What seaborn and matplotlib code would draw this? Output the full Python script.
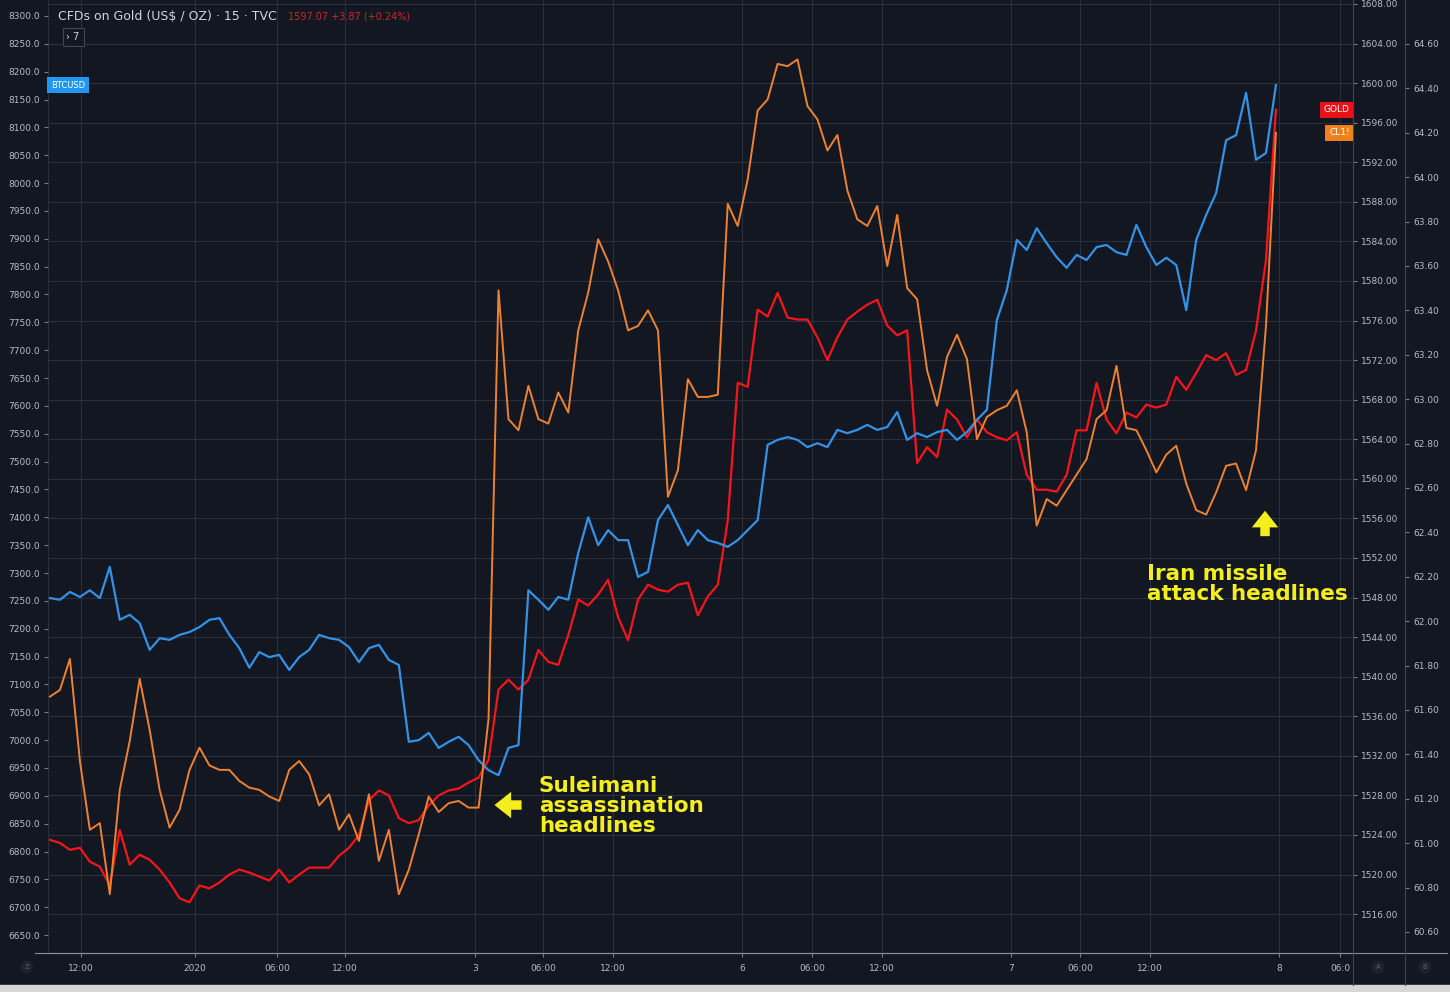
import numpy as np
import matplotlib
matplotlib.use("Agg")
import matplotlib.pyplot as plt
import matplotlib.ticker as mticker
from matplotlib.lines import Line2D
import seaborn as sns

# 15-min chart, sampled roughly every 50 minutes of trading time
btc_usd = [7255, 7252, 7266, 7257, 7269, 7255, 7311, 7216, 7225, 7210,
           7162, 7183, 7180, 7189, 7194, 7203, 7216, 7219, 7189, 7165,
           7130, 7158, 7149, 7153, 7126, 7149, 7162, 7189, 7183, 7180,
           7167, 7140, 7165, 7171, 7144, 7135, 6997, 7000, 7013, 6986,
           6997, 7006, 6991, 6964, 6946, 6937, 6986, 6991, 7269, 7252,
           7234, 7257, 7252, 7336, 7400, 7350, 7377, 7359, 7359, 7293,
           7302, 7395, 7422, 7386, 7350, 7377, 7359, 7354, 7347, 7359,
           7377, 7395, 7530, 7539, 7544, 7539, 7526, 7533, 7526, 7557,
           7551, 7557, 7566, 7557, 7562, 7589, 7539, 7551, 7544, 7553,
           7557, 7539, 7553, 7575, 7593, 7754, 7808, 7898, 7880, 7919,
           7892, 7867, 7848, 7871, 7862, 7885, 7889, 7876, 7871, 7925,
           7885, 7853, 7866, 7853, 7772, 7898, 7943, 7982, 8077, 8086,
           8162, 8042, 8054, 8176]

gold = [1523.5, 1523.2, 1522.5, 1522.7, 1521.3, 1520.8, 1518.9, 1524.5, 1521.0, 1522.0,
        1521.5, 1520.5, 1519.2, 1517.6, 1517.2, 1518.9, 1518.6, 1519.2, 1520.0, 1520.5,
        1520.2, 1519.8, 1519.4, 1520.5, 1519.2, 1520.0, 1520.7, 1520.7, 1520.7, 1521.9,
        1522.7, 1524.0, 1527.5, 1528.5, 1528.0, 1525.7, 1525.2, 1525.5, 1527.0, 1528.0,
        1528.5, 1528.7, 1529.3, 1529.8, 1531.6, 1538.7, 1539.7, 1538.7, 1539.7, 1542.7,
        1541.5, 1541.2, 1544.2, 1547.8, 1547.2, 1548.3, 1549.8, 1546.0, 1543.7, 1547.8,
        1549.3, 1548.8, 1548.6, 1549.3, 1549.5, 1546.2, 1548.1, 1549.3, 1555.8, 1569.7,
        1569.3, 1577.1, 1576.4, 1578.8, 1576.3, 1576.1, 1576.1, 1574.3, 1572.0, 1574.3,
        1576.1, 1576.9, 1577.6, 1578.1, 1575.5, 1574.5, 1575.0, 1561.6, 1563.2, 1562.2,
        1567.0, 1566.0, 1564.2, 1566.0, 1564.7, 1564.2, 1563.9, 1564.7, 1560.4, 1558.9,
        1558.9, 1558.7, 1560.4, 1564.9, 1564.9, 1569.7, 1566.0, 1564.6, 1566.7, 1566.2,
        1567.5, 1567.2, 1567.5, 1570.3, 1569.0, 1570.7, 1572.5, 1572.0, 1572.7, 1570.5,
        1571.0, 1575.0, 1582.1, 1597.3]

crude = [61.66, 61.69, 61.83, 61.37, 61.06, 61.09, 60.77, 61.24, 61.46, 61.74,
         61.51, 61.24, 61.07, 61.15, 61.33, 61.43, 61.35, 61.33, 61.33, 61.28,
         61.25, 61.24, 61.21, 61.19, 61.33, 61.37, 61.31, 61.17, 61.22, 61.06,
         61.13, 61.01, 61.22, 60.92, 61.06, 60.77, 60.88, 61.04, 61.21, 61.14,
         61.18, 61.19, 61.16, 61.16, 61.56, 63.49, 62.91, 62.86, 63.06, 62.91,
         62.89, 63.03, 62.94, 63.31, 63.48, 63.72, 63.62, 63.49, 63.31, 63.33,
         63.40, 63.31, 62.56, 62.68, 63.09, 63.01, 63.01, 63.02, 63.88, 63.78,
         63.99, 64.30, 64.35, 64.51, 64.50, 64.53, 64.32, 64.26, 64.12, 64.19,
         63.94, 63.81, 63.78, 63.87, 63.60, 63.83, 63.50, 63.45, 63.13, 62.97,
         63.19, 63.29, 63.18, 62.82, 62.92, 62.95, 62.97, 63.04, 62.85, 62.43,
         62.55, 62.52, 62.59, 62.66, 62.73, 62.91, 62.95, 63.15, 62.87, 62.86,
         62.77, 62.67, 62.75, 62.79, 62.62, 62.50, 62.48, 62.58, 62.70, 62.71,
         62.59, 62.77, 63.33, 64.20]

tick_pos = [3.11, 14.55, 22.78, 29.60, 42.64, 49.46, 56.49, 69.43, 76.45,
            83.48, 96.42, 103.34, 110.36, 123.31, 129.43]
tick_labels = ["12:00", "2020", "06:00", "12:00", "3", "06:00", "12:00", "6",
               "06:00", "12:00", "7", "06:00", "12:00", "8", "06:0"]

bars = np.arange(len(gold))

BG = "#131722"
TXT = "#b8bbc4"
SEP = "#434651"
YELLOW = "#f5ee1f"
C_BTC, C_GOLD, C_OIL = "#3392e6", "#f5161b", "#ee8230"

plt.rcParams["font.family"] = ["DejaVu Sans"]

fig = plt.figure(figsize=(14.5, 9.92), dpi=100, facecolor=BG)
ax = fig.add_axes([0.0331, 0.0393, 0.9000, 0.9607])
ax.set_facecolor(BG)
ax_btc = ax.twinx()
ax_oil = ax.twinx()

# gold is the host series (right scale), btc and oil are overlays
sns.lineplot(x=bars, y=gold, ax=ax, color=C_GOLD, lw=1.6)
sns.lineplot(x=bars, y=btc_usd, ax=ax_btc, color=C_BTC, lw=1.6)
sns.lineplot(x=bars, y=crude, ax=ax_oil, color=C_OIL, lw=1.4)

ax.set_xlim(-0.2, 130.73)
ax.set_xticks(tick_pos, tick_labels)
ax.tick_params(axis="x", labelsize=6.5, labelcolor=TXT, color="#787b86", length=3, pad=5)

ax.yaxis.tick_right()
ax.set_ylim(1512.07, 1608.4)
ax.set_yticks(np.arange(1516, 1609, 4))
ax.yaxis.set_major_formatter(mticker.FormatStrFormatter("%.2f"))

ax_btc.yaxis.tick_left()
ax_btc.set_ylim(6617.8, 8328.7)
ax_btc.set_yticks(np.arange(6650, 8301, 50))
ax_btc.yaxis.set_major_formatter(mticker.FormatStrFormatter("%.1f"))

ax_oil.set_ylim(60.505, 64.798)
ax_oil.set_yticks(np.arange(60.6, 64.61, 0.2))
ax_oil.yaxis.set_major_formatter(mticker.FormatStrFormatter("%.2f"))
ax_oil.spines["right"].set_position(("axes", 1.0398))

for a in (ax, ax_btc, ax_oil):
    a.set_xlabel("")
    a.set_ylabel("")
    a.tick_params(axis="y", labelsize=6.5, labelcolor=TXT, color="#787b86", length=3, pad=3)
    for s in a.spines.values():
        s.set_visible(False)

ax.spines["left"].set_visible(True)
ax.spines["left"].set_color("#2a2e39")
ax.spines["right"].set_visible(True)
ax.spines["right"].set_color(SEP)
ax.spines["bottom"].set_visible(True)
ax.spines["bottom"].set_color("#8a8d96")
ax_oil.spines["right"].set_visible(True)
ax_oil.spines["right"].set_color(SEP)

ax.grid(True, color="#2b2f3b", lw=0.8)
ax.set_axisbelow(True)

# header
ax.text(0.0077, 0.983, "CFDs on Gold (US$ / OZ) · 15 · TVC", transform=ax.transAxes,
        color="#d1d4dc", fontsize=9, va="center", ha="left")
ax.text(0.1839, 0.983, "1597.07 +3.87 (+0.24%)", transform=ax.transAxes,
        color="#d0232a", fontsize=7, va="center", ha="left")
ax.text(0.0192, 0.9615, "› 7", transform=ax.transAxes, color="#d1d4dc", fontsize=7,
        ha="center", va="center",
        bbox=dict(boxstyle="square,pad=0.4", fc=BG, ec=SEP, lw=0.8))

# last value tags
ax_btc.text(0.0023, btc_usd[-1], "BTCUSD", transform=ax_btc.get_yaxis_transform(),
            ha="left", va="center", fontsize=6, color="white",
            bbox=dict(boxstyle="square,pad=0.45", fc="#2196f3", ec="none"))
ax.text(0.9975, gold[-1], "GOLD", transform=ax.get_yaxis_transform(),
        ha="right", va="center", fontsize=6.5, color="white",
        bbox=dict(boxstyle="square,pad=0.4", fc="#e8121a", ec="none"))
ax_oil.text(0.9975, crude[-1], "CL1!", transform=ax_oil.get_yaxis_transform(),
            ha="right", va="center", fontsize=6.5, color="white",
            bbox=dict(boxstyle="square,pad=0.4", fc="#f07f1e", ec="none"))

# annotations
arrow = dict(arrowstyle="simple,head_length=0.6,head_width=0.95,tail_width=0.34",
             color=YELLOW, lw=0, mutation_scale=20)
ax.annotate("", xy=(0.340, 0.1553), xytext=(0.365, 0.1553),
            xycoords="axes fraction", textcoords="axes fraction", arrowprops=arrow)
ax.annotate("", xy=(0.9326, 0.4670), xytext=(0.9326, 0.4345),
            xycoords="axes fraction", textcoords="axes fraction", arrowprops=arrow)
ax.text(0.3762, 0.1860, "Suleimani\nassassination\nheadlines", transform=ax.transAxes,
        color=YELLOW, fontsize=15.5, fontweight="bold", ha="left", va="top", linespacing=1.02)
ax.text(0.8421, 0.4085, "Iran missile\nattack headlines", transform=ax.transAxes,
        color=YELLOW, fontsize=15.5, fontweight="bold", ha="left", va="top", linespacing=1.02)

# chrome at the bottom
for x, s in [(27, "Z"), (1378, "A"), (1425, "B")]:
    fig.text(x / 1450, 25 / 992, s, color="#5d606b", fontsize=5, ha="center", va="center",
             bbox=dict(boxstyle="circle,pad=0.5", fc="#1e222d", ec="none"))
fig.add_artist(Line2D([0.024, 0.998], [0.0393, 0.0393], color="#8a8d96", lw=0.8))
fig.add_artist(Line2D([0.9331, 0.9331], [0.007, 0.0393], color=SEP, lw=0.8))
fig.add_artist(Line2D([0.969, 0.969], [0.007, 0.0393], color=SEP, lw=0.8))
fig.add_artist(plt.Rectangle((0, 0), 1, 7 / 992, transform=fig.transFigure, color="#d6d6d6"))

fig.savefig("out.png", dpi=100, facecolor=BG)
